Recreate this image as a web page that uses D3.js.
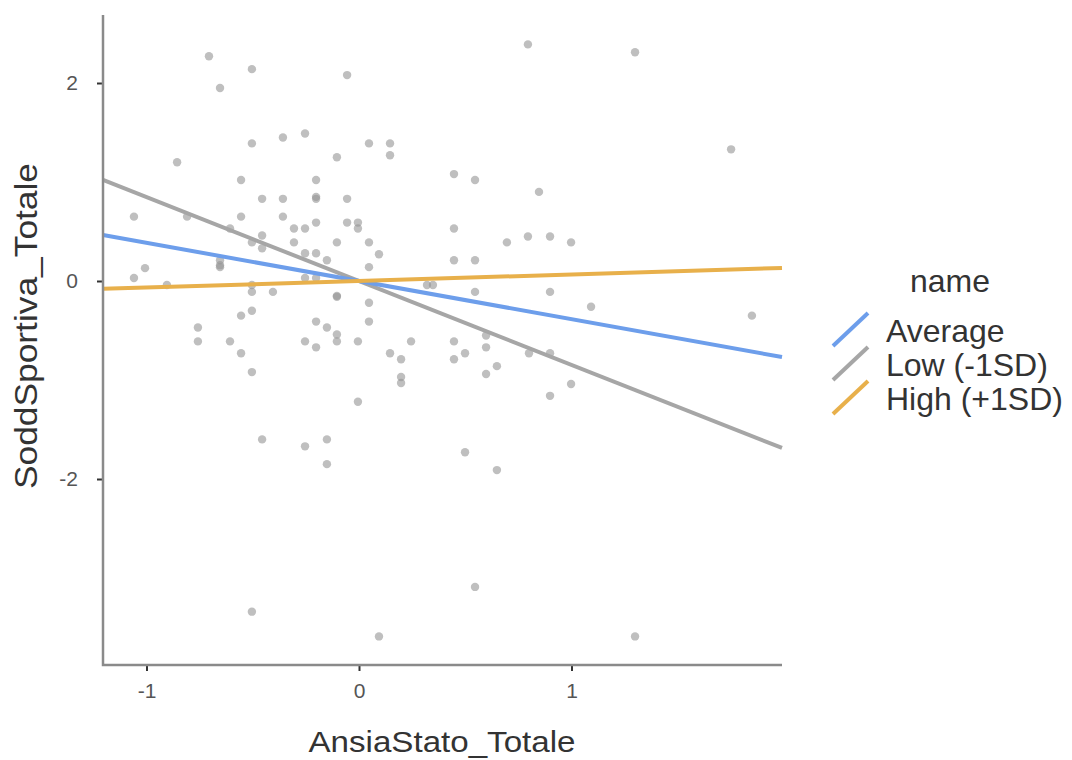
<!DOCTYPE html>
<html>
<head>
<meta charset="utf-8">
<script src="https://cdn.jsdelivr.net/npm/d3@7"></script>
<style>
  html, body { margin: 0; padding: 0; background: #fff; }
  svg { display: block; font-family: "Liberation Sans", Arial, sans-serif; }
</style>
</head>
<body>
<svg id="chart" width="1072" height="760"></svg>
<script>
// ---- data ----
const pointX = [
  -0.706,-0.504,-0.654,-0.056,0.795,1.299,-0.358,-0.254,-0.504,-0.856,
  -0.104,0.047,0.146,0.146,1.751,-0.555,-0.202,0.447,0.546,0.847,
  -0.456,-0.358,-0.202,-0.202,-0.056,-1.059,-0.809,-0.555,-0.358,-0.202,
  -0.056,-0.005,-0.005,-0.306,-0.254,-0.607,-0.456,-0.504,-0.306,-0.104,
  0.047,-0.456,-0.254,-0.202,-0.151,0.094,0.047,-0.654,-0.654,-0.654,
  -1.007,-1.059,-0.254,-0.202,-0.904,-0.504,-0.504,-0.405,-0.104,-0.104,
  0.047,0.047,-0.555,-0.504,-0.758,-0.758,-0.607,-0.555,-0.504,-0.254,
  -0.202,-0.151,-0.104,-0.104,-0.202,-0.005,-0.005,0.146,0.198,0.245,
  0.198,0.198,-0.456,-0.254,-0.151,-0.151,0.320,0.348,0.546,0.899,
  1.092,1.849,0.447,0.447,0.546,0.696,0.795,0.899,0.998,0.447,
  0.447,0.499,0.598,0.598,0.649,0.598,0.800,0.899,0.998,0.899,
  0.499,0.649,-0.504,0.094,0.546,1.299
];
const pointY = [
  2.27,2.14,1.95,2.08,2.39,2.31,1.45,1.49,1.39,1.20,
  1.25,1.39,1.39,1.27,1.33,1.02,1.02,1.08,1.02,0.90,
  0.83,0.83,0.83,0.85,0.83,0.65,0.65,0.65,0.65,0.59,
  0.59,0.59,0.53,0.53,0.53,0.53,0.46,0.39,0.39,0.39,
  0.39,0.33,0.28,0.28,0.21,0.27,0.14,0.21,0.14,0.16,
  0.13,0.03,0.03,0.03,-0.04,-0.04,-0.11,-0.11,-0.16,-0.15,
  -0.22,-0.41,-0.35,-0.30,-0.47,-0.61,-0.61,-0.73,-0.92,-0.61,
  -0.41,-0.47,-0.54,-0.61,-0.67,-0.61,-1.22,-0.73,-0.79,-0.61,
  -0.97,-1.03,-1.60,-1.67,-1.60,-1.85,-0.04,-0.04,-0.11,-0.11,
  -0.26,-0.35,0.53,0.21,0.21,0.39,0.45,0.45,0.39,-0.61,
  -0.79,-0.73,-0.55,-0.67,-0.86,-0.94,-0.73,-0.73,-1.04,-1.16,
  -1.73,-1.91,-3.34,-3.59,-3.09,-3.59
];
const lineNames = ["Average", "Low (-1SD)", "High (+1SD)"];
const lineSlopes = [-0.386, -0.847, 0.066];
const lineIntercepts = [0.0, 0.0, 0.0];
const lineColors = ["#6D9EEB", "#A6A6A6", "#E8B04B"];
const xTicks = [-1, 0, 1];
const yTicks = [-2, 0, 2];
const xDomain = [-1.2047, 1.9906];
const yDomain = [-3.8788, 2.6869];
const xTitle = "AnsiaStato_Totale";
const yTitle = "SoddSportiva_Totale";
const legendTitle = "name";

// ---- chart ----
const svg = d3.select("#chart");
const pL = 103, pR = 782, pT = 15, pB = 665;
const x = d3.scaleLinear().domain(xDomain).range([pL, pR]);
const y = d3.scaleLinear().domain(yDomain).range([pB, pT]);

// points
const pts = pointX.map((v, i) => ({x: v, y: pointY[i]}));
svg.append("g").selectAll("circle").data(pts).enter().append("circle")
  .attr("cx", d => x(d.x)).attr("cy", d => y(d.y)).attr("r", 4.2)
  .attr("fill", "#949494").attr("fill-opacity", 0.6);

// regression lines
const order = [1, 0, 2];
order.forEach(i => {
  const line = d3.line().x(d => x(d)).y(d => y(lineIntercepts[i] + lineSlopes[i] * d));
  svg.append("path").datum(xDomain).attr("d", line)
    .attr("fill", "none").attr("stroke", lineColors[i]).attr("stroke-width", 4);
});

// axes
const fmt = d => String(d);
const xAxis = svg.append("g").attr("transform", `translate(0,${pB})`)
  .call(d3.axisBottom(x).tickValues(xTicks).tickSize(6).tickPadding(12).tickFormat(fmt));
const yAxis = svg.append("g").attr("transform", `translate(${pL},0)`)
  .call(d3.axisLeft(y).tickValues(yTicks).tickSize(6).tickPadding(19).tickFormat(fmt));
[xAxis, yAxis].forEach(a => {
  a.select(".domain").remove();
  a.selectAll(".tick line").attr("stroke", "#333").attr("stroke-width", 2);
  a.selectAll(".tick text").attr("fill", "#555").style("font-size", "21px")
    .style("font-family", "'Liberation Sans', Arial, sans-serif");
});
svg.append("path")
  .attr("d", `M${pL},${pT}V${pB}H${pR}`)
  .attr("fill", "none").attr("stroke", "#8a8a8a").attr("stroke-width", 2.5);

// axis titles
svg.append("text").attr("x", 442).attr("y", 752)
  .attr("text-anchor", "middle").attr("fill", "#333").style("font-size", "30px")
  .attr("textLength", 267).attr("lengthAdjust", "spacingAndGlyphs")
  .text(xTitle);
svg.append("text").attr("transform", `translate(37,326) rotate(-90)`)
  .attr("text-anchor", "middle").attr("fill", "#333").style("font-size", "31px")
  .attr("textLength", 326).attr("lengthAdjust", "spacingAndGlyphs")
  .text(yTitle);

// legend
const lg = svg.append("g");
lg.append("text").attr("x", 910).attr("y", 292).attr("fill", "#333")
  .style("font-size", "32px").text(legendTitle);
lineNames.forEach((n, i) => {
  const by = 346 + i * 34;
  lg.append("line").attr("x1", 833).attr("y1", by).attr("x2", 868).attr("y2", by - 33)
    .attr("stroke", lineColors[i]).attr("stroke-width", 4);
  lg.append("text").attr("x", 886).attr("y", 342 + i * 34).attr("fill", "#333")
    .style("font-size", "32px").text(n);
});
</script>
</body>
</html>
